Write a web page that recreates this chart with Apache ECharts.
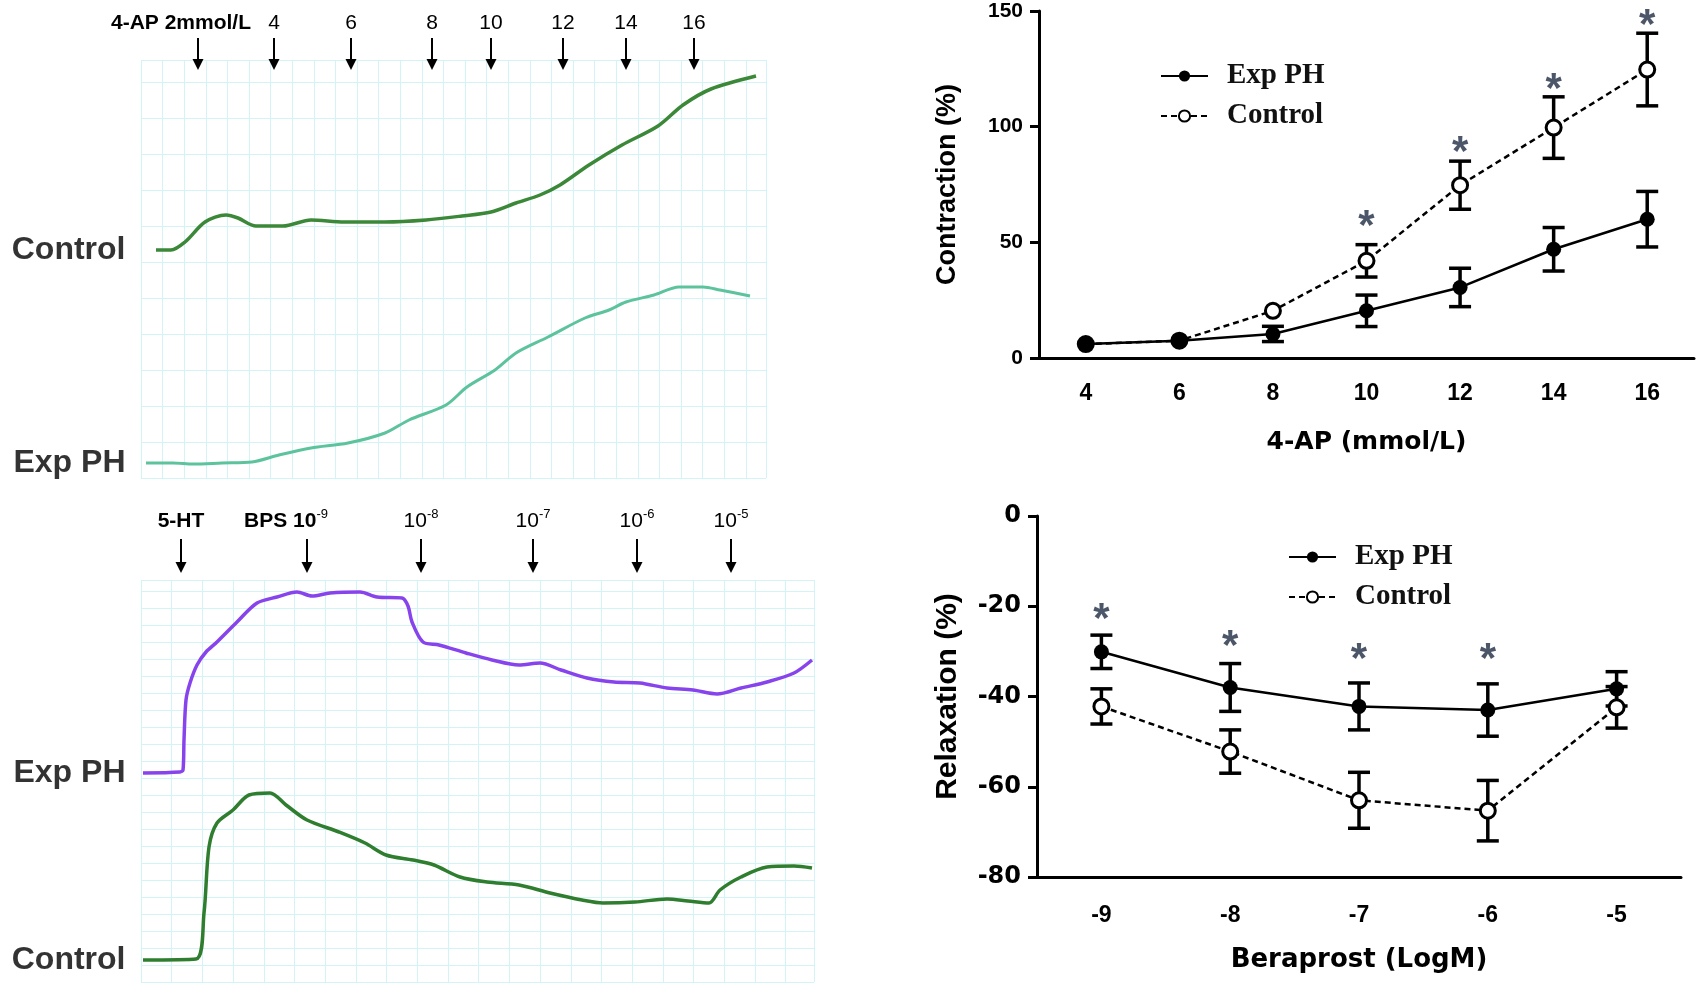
<!DOCTYPE html>
<html>
<head>
<meta charset="utf-8">
<title>4-AP contraction and beraprost relaxation</title>
<script src="https://cdn.jsdelivr.net/npm/echarts@6/dist/echarts.min.js"></script>
<style>
    html, body { margin: 0; padding: 0; background: #fff; }
    #main { width: 1701px; height: 990px; }
</style>
</head>
<body>
<div id="main"></div>
<script>
// dose-response, 4-AP
var apDoses = ['4', '6', '8', '10', '12', '14', '16'];
var apExpPH = [6, 7.5, 10.4, 20.4, 30.5, 47, 60];
var apExpPHErr = [0, 0, 3.3, 6.8, 8.3, 9.4, 12];
var apControl = [6, 7.5, 20.4, 42, 74.7, 99.6, 124.7];
var apControlErr = [0, 0, 0, 7, 10.4, 13.3, 15.7];
var apStars = [null, null, null, 61.6, 93.5, 120.7, 148.7];

// dose-response, beraprost
var bpsDoses = ['-9', '-8', '-7', '-6', '-5'];
var bpsExpPH = [-30.1, -38, -42.2, -43, -38.3];
var bpsExpPHErr = [3.7, 5.3, 5.2, 5.8, 3.8];
var bpsControl = [-42.2, -52.2, -63, -65.3, -42.4];
var bpsControlErr = [3.9, 4.8, 6.2, 6.7, 4.6];
var bpsStars = [-20.5, -26.5, -29.4, -29.4, null];

// original tension recordings [time, tension]
var apTraceControl = [[1.5,22.8],[3.0,22.8],[4.4,23.6],[6.4,25.6],[8.5,26.3],[9.7,26.0],[11.5,25.2],[14.2,25.2],
    [17.0,25.8],[20.3,25.6],[24.4,25.6],[28.5,25.8],[32.1,26.2],[35.0,26.6],[37.5,27.5],[39.9,28.3],[41.9,29.3],
    [44.8,31.3],[48.1,33.3],[51.7,35.2],[54.2,37.3],[57.0,38.9],[61.5,40.2]];
var apTraceExpPH = [[0.5,1.5],[3.2,1.5],[5.2,1.4],[8.1,1.5],[11.1,1.6],[13.8,2.3],[17.0,3.0],[20.7,3.5],[24.4,4.5],
    [26.8,5.8],[30.5,7.3],[32.6,9.1],[35.4,10.8],[37.5,12.5],[40.7,14.1],[44.4,16.0],[46.8,16.8],[48.5,17.6],
    [51.3,18.3],[53.8,19.1],[56.2,19.1],[57.9,18.8],[60.9,18.2]];
var apAddTimes = [5.7, 13.3, 21.0, 29.1, 35.0, 42.2, 48.5, 55.3];
var apAddLabels = ['4-AP 2mmol/L', '4', '6', '8', '10', '12', '14', '16'];

var bpsTraceExpPH = [[0.2,20.9],[3.9,21.0],[4.2,21.2],[4.3,24.2],[4.5,28.2],[4.9,29.9],[5.6,31.7],[6.5,33.0],
    [7.6,34.0],[9.6,36.0],[11.6,37.9],[13.6,38.5],[15.6,39.0],[17.1,38.6],[18.9,38.9],[21.9,39.0],[23.6,38.5],
    [26.1,38.4],[26.7,37.6],[27.1,36.0],[28.2,34.0],[29.8,33.7],[32.5,32.9],[35.1,32.2],[37.8,31.7],[39.9,31.9],
    [42.0,31.2],[44.6,30.4],[47.3,30.0],[49.9,29.9],[52.6,29.4],[55.2,29.2],[57.6,28.8],[60.0,29.4],[62.6,30.0],
    [65.3,30.9],[67.1,32.2]];
var bpsTraceControl = [[0.2,2.2],[5.5,2.3],[6.3,6.9],[6.8,13.5],[7.6,15.9],[9.2,17.2],[10.8,18.7],[12.9,18.9],
    [14.5,17.7],[16.6,16.2],[19.8,15.0],[22.4,13.9],[24.5,12.7],[27.2,12.2],[29.3,11.7],[31.9,10.5],[34.6,10.0],
    [37.8,9.7],[40.9,8.9],[44.1,8.2],[46.2,7.9],[49.4,8.0],[52.6,8.3],[54.7,8.1],[56.8,7.9],[57.9,9.2],[60.0,10.5],
    [62.6,11.5],[65.3,11.6],[67.1,11.4]];
var bpsAddTimes = [4.0, 16.6, 28.0, 39.2, 49.6, 59.0];
var bpsAddLabels = ['5-HT', 'BPS 10-9', '10-8', '10-7', '10-6', '10-5'];

var SANS = 'Liberation Sans, Arial, sans-serif';
var WIDE = 'DejaVu Sans, Verdana, sans-serif';
var SERIF = 'Liberation Serif, Times New Roman, serif';

var chart = echarts.init(document.getElementById('main'));

function paperAxis(gridIndex, max, step) {
    return {
        type: 'value', gridIndex: gridIndex, min: 0, max: max, interval: step,
        axisLine: { show: false }, axisTick: { show: false }, axisLabel: { show: false },
        splitLine: { show: true, lineStyle: { color: '#d3f4f6', width: 1 } }
    };
}

function doseXAxis(gridIndex, cats, name, gap, size, labelMargin) {
    return {
        type: 'category', gridIndex: gridIndex, data: cats, boundaryGap: true,
        name: name, nameLocation: 'middle', nameGap: gap,
        nameTextStyle: { fontFamily: WIDE, fontWeight: 'bold', fontSize: size, color: '#000' },
        axisLine: { onZero: false, lineStyle: { color: '#000', width: 3 } },
        axisTick: { alignWithLabel: true, length: 8, lineStyle: { color: '#000', width: 3 } },
        axisLabel: { fontFamily: SANS, fontWeight: 'bold', fontSize: 23, color: '#000', margin: labelMargin },
        splitLine: { show: false }
    };
}

function doseYAxis(gridIndex, min, max, step, name, gap, size, labelFont, labelSize) {
    return {
        type: 'value', gridIndex: gridIndex, min: min, max: max, interval: step,
        name: name, nameLocation: 'middle', nameGap: gap, nameRotate: 90,
        nameTextStyle: { fontFamily: SANS, fontWeight: 'bold', fontSize: size, color: '#000' },
        axisLine: { show: true, onZero: false, lineStyle: { color: '#000', width: 3 } },
        axisTick: { show: true, length: 9, lineStyle: { color: '#000', width: 3 } },
        axisLabel: { fontFamily: labelFont, fontWeight: 'bold', fontSize: labelSize, color: '#000', margin: 16 },
        splitLine: { show: false }
    };
}

// "10-9" -> rich text with superscript exponent
function richLabel(txt, bold) {
    var b = bold ? 'bb' : 'b';
    var m = txt.match(/^(.*10)(-\d)$/);
    if (m) return '{' + b + '|' + m[1] + '}{s|' + m[2] + '}';
    return '{' + b + '|' + txt + '}';
}

function additionMarks(axisIndex, times, labels, boldCount, offs) {
    return {
        type: 'custom', xAxisIndex: axisIndex, yAxisIndex: axisIndex, silent: true, z: 5,
        data: times.map(function (t, i) { return [t, i]; }),
        renderItem: function (params, api) {
            var i = api.value(1);
            var x = api.coord([api.value(0), 0])[0];
            var top = params.coordSys.y;
            var tip = top + offs.tip, tail = top + offs.tail;
            return {
                type: 'group',
                children: [
                    { type: 'line', shape: { x1: x, y1: tail, x2: x, y2: tip - 6 },
                      style: { stroke: '#000', lineWidth: 2 } },
                    { type: 'polygon', shape: { points: [[x - 5.5, tip - 11], [x + 5.5, tip - 11], [x, tip]] },
                      style: { fill: '#000' } },
                    { type: 'text', x: x + (i === offs.shiftIndex ? offs.shift : 0), y: top + offs.label,
                      style: {
                          text: richLabel(labels[i], i < boldCount), align: 'center', verticalAlign: 'middle',
                          rich: {
                              b: { fontFamily: SANS, fontSize: 21, lineHeight: 24, verticalAlign: 'bottom', fill: '#000' },
                              bb: { fontFamily: SANS, fontWeight: 'bold', fontSize: 21, lineHeight: 24, verticalAlign: 'bottom', fill: '#000' },
                              s: { fontFamily: SANS, fontSize: 13, lineHeight: 24, verticalAlign: 'top', fill: '#000' }
                          }
                      } }
                ]
            };
        }
    };
}

function traceLine(axisIndex, data, color, width) {
    return {
        type: 'line', xAxisIndex: axisIndex, yAxisIndex: axisIndex, data: data,
        showSymbol: false, smooth: 0.3, silent: true, z: 3,
        lineStyle: { color: color, width: width }
    };
}

function traceName(axisIndex, first, text, dist) {
    return {
        type: 'scatter', xAxisIndex: axisIndex, yAxisIndex: axisIndex, data: [first],
        symbolSize: 1, itemStyle: { color: 'rgba(0,0,0,0)' }, silent: true,
        label: { show: true, position: 'left', distance: dist, formatter: text,
                 fontFamily: SANS, fontWeight: 'bold', fontSize: 32, color: '#000' }
    };
}

function errorBars(axisIndex, values, errs) {
    var data = [];
    values.forEach(function (v, i) {
        if (errs[i] > 0) data.push([i, v - errs[i], v + errs[i]]);
    });
    return {
        type: 'custom', xAxisIndex: axisIndex, yAxisIndex: axisIndex, data: data, silent: true, z: 2,
        renderItem: function (params, api) {
            var lo = api.coord([api.value(0), api.value(1)]);
            var hi = api.coord([api.value(0), api.value(2)]);
            var half = 11;
            var st = { stroke: '#000', lineWidth: 3.5 };
            return {
                type: 'group',
                children: [
                    { type: 'line', shape: { x1: lo[0], y1: lo[1], x2: hi[0], y2: hi[1] }, style: st },
                    { type: 'line', shape: { x1: lo[0] - half, y1: lo[1], x2: lo[0] + half, y2: lo[1] }, style: st },
                    { type: 'line', shape: { x1: hi[0] - half, y1: hi[1], x2: hi[0] + half, y2: hi[1] }, style: st }
                ]
            };
        }
    };
}

function doseLine(axisIndex, name, data, filled) {
    return {
        type: 'line', name: name, xAxisIndex: axisIndex, yAxisIndex: axisIndex, data: data,
        symbol: 'circle', symbolSize: 15, z: filled ? 4 : 3,
        lineStyle: { color: '#000', width: 2.5, type: filled ? 'solid' : [6, 4] },
        itemStyle: filled ? { color: '#000' } : { color: '#fff', borderColor: '#000', borderWidth: 3 }
    };
}

function stars(axisIndex, cats, vals) {
    var data = [];
    vals.forEach(function (v, i) { if (v !== null) data.push([cats[i], v]); });
    return {
        type: 'scatter', xAxisIndex: axisIndex, yAxisIndex: axisIndex, data: data,
        symbolSize: 1, itemStyle: { color: 'rgba(0,0,0,0)' }, silent: true, z: 6,
        label: { show: true, position: 'inside', formatter: '*', offset: [0, 12],
                 fontFamily: SANS, fontWeight: 'bold', fontSize: 42, color: '#1e2c44' }
    };
}

function legendAt(left, top) {
    return {
        data: ['Exp PH', 'Control'], orient: 'vertical', left: left, top: top,
        itemWidth: 47, itemHeight: 14, itemGap: 10, selectedMode: false,
        textStyle: { fontFamily: SERIF, fontWeight: 'bold', fontSize: 29, lineHeight: 30,
                     color: '#111', padding: [0, 0, 0, 14] }
    };
}

var option = {
    animation: false,
    backgroundColor: '#fff',
    grid: [
        { left: 141, top: 60, width: 625, height: 418 },
        { left: 141, top: 580, width: 673, height: 402 },
        { left: 1039, top: 11, width: 655, height: 347 },
        { left: 1037, top: 516, width: 644, height: 361 }
    ],
    xAxis: [
        paperAxis(0, 62.5, 2.16),
        paperAxis(1, 67.3, 3.07),
        doseXAxis(2, apDoses, '4-AP (mmol/L)', 72, 25, 24),
        doseXAxis(3, bpsDoses, 'Beraprost (LogM)', 70, 26, 27)
    ],
    yAxis: [
        paperAxis(0, 41.8, 3.6),
        paperAxis(1, 40.2, 1.7),
        doseYAxis(2, 0, 150, 50, 'Contraction (%)', 78, 27, SANS, 21),
        doseYAxis(3, -80, 0, 20, 'Relaxation (%)', 74, 30, WIDE, 24)
    ],
    legend: [legendAt(1155, 56), legendAt(1283, 537)],
    series: [
        traceLine(0, apTraceControl, '#3b8838', 3.5),
        traceLine(0, apTraceExpPH, '#5cc39d', 3),
        traceName(0, apTraceControl[0], 'Control', 30),
        traceName(0, apTraceExpPH[0], 'Exp PH', 20),
        additionMarks(0, apAddTimes, apAddLabels, 1, { label: -38, tail: -22, tip: 10, shiftIndex: 0, shift: -17 }),

        traceLine(1, bpsTraceExpPH, '#8844ec', 3.5),
        traceLine(1, bpsTraceControl, '#2f7d2f', 3.5),
        traceName(1, bpsTraceExpPH[0], 'Exp PH', 17),
        traceName(1, bpsTraceControl[0], 'Control', 17),
        additionMarks(1, bpsAddTimes, bpsAddLabels, 2, { label: -60, tail: -41, tip: -7, shiftIndex: 1, shift: -21 }),

        errorBars(2, apControl, apControlErr),
        errorBars(2, apExpPH, apExpPHErr),
        doseLine(2, 'Control', apControl, false),
        doseLine(2, 'Exp PH', apExpPH, true),
        stars(2, apDoses, apStars),

        errorBars(3, bpsControl, bpsControlErr),
        errorBars(3, bpsExpPH, bpsExpPHErr),
        doseLine(3, 'Control', bpsControl, false),
        doseLine(3, 'Exp PH', bpsExpPH, true),
        stars(3, bpsDoses, bpsStars)
    ]
};

chart.setOption(option);
</script>
</body>
</html>
